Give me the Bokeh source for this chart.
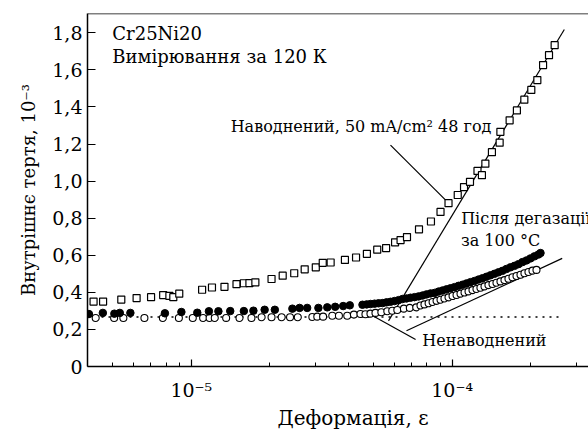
from bokeh.plotting import figure
from bokeh.models import Range1d, FixedTicker, Span, Label, Title
from bokeh.embed import file_html
from bokeh.resources import INLINE

# ---- data (strain, internal friction x1e-3) ----
hyd_x = [4.22e-6, 4.59e-6, 5.39e-6, 6.17e-6, 7.01e-6, 7.80e-6, 8.24e-6, 8.53e-6, 8.99e-6,
         1.10e-5, 1.20e-5, 1.34e-5, 1.49e-5, 1.59e-5, 1.67e-5, 1.76e-5, 2.03e-5, 2.24e-5,
         2.48e-5, 2.72e-5, 3.00e-5, 3.19e-5, 3.42e-5, 3.88e-5, 4.28e-5, 4.71e-5, 5.16e-5,
         5.58e-5, 6.04e-5, 6.34e-5, 6.71e-5, 7.46e-5, 8.29e-5, 9.02e-5, 9.68e-5, 1.05e-4,
         1.11e-4, 1.17e-4, 1.25e-4, 1.30e-4, 1.34e-4, 1.42e-4, 1.52e-4, 1.53e-4, 1.66e-4,
         1.77e-4, 1.89e-4, 2.01e-4, 2.12e-4, 2.23e-4, 2.35e-4, 2.47e-4]
hyd_y = [0.350, 0.350, 0.361, 0.369, 0.374, 0.385, 0.381, 0.374, 0.393,
         0.414, 0.426, 0.430, 0.444, 0.449, 0.450, 0.454, 0.472, 0.490,
         0.503, 0.524, 0.535, 0.559, 0.561, 0.575, 0.588, 0.608, 0.630,
         0.639, 0.670, 0.682, 0.698, 0.740, 0.782, 0.834, 0.881, 0.925,
         0.968, 0.996, 1.055, 1.032, 1.094, 1.156, 1.207, 1.266, 1.328,
         1.381, 1.439, 1.492, 1.545, 1.626, 1.679, 1.733]

degas_x = [4.05e-6, 4.58e-6, 5.07e-6, 5.32e-6, 5.84e-6, 7.92e-6, 9.16e-6, 1.054e-5, 1.168e-5,
           1.27e-5, 1.41e-5, 1.59e-5, 1.73e-5, 1.91e-5, 2.09e-5, 2.44e-5, 2.60e-5, 2.78e-5,
           3.07e-5, 3.32e-5, 3.56e-5, 3.82e-5, 4.05e-5,
           4.53e-5, 4.70e-5, 4.86e-5, 5.04e-5, 5.22e-5, 5.41e-5, 5.60e-5, 5.80e-5, 6.01e-5,
           6.23e-5, 6.45e-5, 6.68e-5, 6.92e-5, 7.17e-5, 7.43e-5, 7.70e-5, 7.97e-5, 8.26e-5,
           8.56e-5, 8.86e-5, 9.18e-5, 9.51e-5, 9.85e-5, 1.020e-4, 1.057e-4, 1.095e-4, 1.134e-4,
           1.175e-4, 1.217e-4, 1.261e-4, 1.306e-4, 1.353e-4, 1.402e-4, 1.452e-4, 1.504e-4,
           1.558e-4, 1.614e-4, 1.673e-4, 1.733e-4, 1.795e-4, 1.859e-4, 1.926e-4, 1.995e-4,
           2.067e-4, 2.141e-4, 2.18e-4]
degas_y = [0.283, 0.289, 0.285, 0.289, 0.289, 0.287, 0.294, 0.290, 0.298,
           0.298, 0.299, 0.299, 0.301, 0.306, 0.306, 0.312, 0.316, 0.316,
           0.316, 0.319, 0.322, 0.326, 0.330,
           0.333, 0.335, 0.337, 0.339, 0.341, 0.342, 0.346, 0.349, 0.353,
           0.358, 0.364, 0.367, 0.371, 0.374, 0.378, 0.383, 0.389, 0.394,
           0.397, 0.404, 0.410, 0.416, 0.422, 0.428, 0.435, 0.441, 0.448,
           0.455, 0.461, 0.469, 0.476, 0.484, 0.492, 0.500, 0.508,
           0.516, 0.526, 0.535, 0.543, 0.552, 0.563, 0.572, 0.583,
           0.594, 0.604, 0.612]

unhyd_x = [4.30e-6, 5.06e-6, 5.49e-6, 6.61e-6, 7.78e-6, 8.96e-6, 1.013e-5, 1.11e-5, 1.175e-5,
           1.23e-5, 1.36e-5, 1.53e-5, 1.70e-5, 1.86e-5, 2.03e-5, 2.22e-5, 2.39e-5, 2.56e-5,
           2.91e-5, 3.04e-5, 3.20e-5, 3.47e-5, 3.68e-5, 3.96e-5, 4.20e-5, 4.45e-5, 4.65e-5,
           4.86e-5, 5.08e-5, 5.35e-5, 5.64e-5, 5.89e-5, 6.16e-5, 6.53e-5, 6.88e-5, 7.28e-5,
           7.56e-5, 7.83e-5, 8.12e-5, 8.41e-5, 8.71e-5, 9.02e-5, 9.34e-5, 9.68e-5, 1.003e-4,
           1.039e-4, 1.076e-4, 1.115e-4, 1.155e-4, 1.196e-4, 1.239e-4, 1.283e-4, 1.330e-4,
           1.377e-4, 1.427e-4, 1.478e-4, 1.531e-4, 1.586e-4, 1.643e-4, 1.702e-4, 1.764e-4,
           1.827e-4, 1.892e-4, 1.960e-4, 2.031e-4, 2.104e-4]
unhyd_y = [0.262, 0.262, 0.262, 0.262, 0.262, 0.262, 0.262, 0.262, 0.262,
           0.262, 0.262, 0.262, 0.262, 0.266, 0.266, 0.266, 0.266, 0.266,
           0.267, 0.269, 0.269, 0.274, 0.274, 0.274, 0.280, 0.283, 0.282,
           0.285, 0.289, 0.293, 0.298, 0.301, 0.305, 0.312, 0.316, 0.319,
           0.329, 0.335, 0.341, 0.348, 0.354, 0.360, 0.367, 0.373, 0.380,
           0.386, 0.393, 0.399, 0.405, 0.412, 0.418, 0.425, 0.432,
           0.439, 0.445, 0.452, 0.459, 0.466, 0.473, 0.481, 0.488,
           0.495, 0.503, 0.510, 0.517, 0.521]

# fitted straight lines and baseline
fit_hyd_x = [5.70e-5, 2.69e-4]
fit_hyd_y = [0.246, 1.818]
fit_deg_x = [6.68e-5, 2.64e-4]
fit_deg_y = [0.193, 0.583]
base_x = [4.0e-6, 2.60e-4]
base_y = [0.267, 0.267]
# leader lines
lead_hyd_x = [5.80e-5, 9.48e-5]
lead_hyd_y = [1.194, 0.895]
lead_unh_x = [4.86e-5, 7.24e-5]
lead_unh_y = [0.280, 0.146]

y_ticks = [0, 0.2, 0.4, 0.6, 0.8, 1.0, 1.2, 1.4, 1.6, 1.8]
y_tick_labels = ["0", "0,2", "0,4", "0,6", "0,8", "1,0", "1,2", "1,4", "1,6", "1,8"]
x_ticks = [1e-5, 1e-4]
x_tick_labels = ["10\u207b\u2075", "10\u207b\u2074"]
x_minor = [5e-6, 6e-6, 7e-6, 8e-6, 9e-6, 2e-5, 3e-5, 4e-5, 5e-5, 6e-5, 7e-5, 8e-5, 9e-5, 2e-4, 3e-4]

FONT = "DejaVu Serif"

p = figure(width=588, height=429, x_axis_type="log",
           x_range=Range1d(4.0e-6, 3.33e-4), y_range=Range1d(0, 1.904),
           output_backend="svg", toolbar_location=None,
           min_border_left=87, min_border_right=0, min_border_top=13, min_border_bottom=0)
p.outline_line_color = None
p.grid.visible = False
p.background_fill_color = "white"
p.border_fill_color = "white"

# top border
p.add_layout(Span(location=1.904, dimension="width", line_color="black", line_width=1.5))

# axes styling
for ax in (p.xaxis[0], p.yaxis[0]):
    ax.axis_line_width = 1.5
    ax.axis_line_color = "black"
    ax.major_tick_line_color = "black"
    ax.major_tick_line_width = 1.2
    ax.minor_tick_line_width = 1.0
    ax.major_tick_in = 7
    ax.major_tick_out = 0
    ax.minor_tick_in = 4
    ax.minor_tick_out = 0
    ax.major_label_text_font = FONT
    ax.major_label_text_font_size = "19px"
    ax.major_label_text_color = "black"
    ax.axis_label_text_font = FONT
    ax.axis_label_text_font_size = "18px"
    ax.axis_label_text_font_style = "normal"
    ax.axis_label_text_color = "black"

p.yaxis.ticker = FixedTicker(ticks=y_ticks)
p.yaxis.major_label_overrides = dict(zip(y_ticks, y_tick_labels))
p.yaxis.major_tick_in = 8
p.yaxis.minor_tick_line_color = None
p.yaxis.major_label_standoff = 5
p.yaxis.axis_label = "Внутрішнє тертя, 10\u207b\u00b3"
p.yaxis.axis_label_standoff = 10

p.xaxis.ticker = FixedTicker(ticks=x_ticks, minor_ticks=x_minor)
p.xaxis.major_label_overrides = dict(zip(x_ticks, x_tick_labels))
p.xaxis.major_label_standoff = 12

# x-axis title below the tick labels, offset to where the reference has it
p.add_layout(Title(text="Деформація, ε", align="left", offset=190, standoff=0,
                   text_font=FONT, text_font_size="20px", text_font_style="normal",
                   text_color="black"), "below")

# baseline and fits
p.line(base_x, base_y, line_color="black", line_width=1.6, line_dash="2 5")
p.line(fit_hyd_x, fit_hyd_y, line_color="black", line_width=1.2)
p.line(fit_deg_x, fit_deg_y, line_color="black", line_width=1.2)
p.line(lead_hyd_x, lead_hyd_y, line_color="black", line_width=1.2)
p.line(lead_unh_x, lead_unh_y, line_color="black", line_width=1.2)

# data
p.scatter(unhyd_x, unhyd_y, marker="circle", size=7, fill_color="white",
          line_color="black", line_width=1.1)
p.scatter(degas_x, degas_y, marker="circle", size=7.5, fill_color="black",
          line_color="black", line_width=1)
p.scatter(hyd_x, hyd_y, marker="square", size=7, fill_color="white",
          line_color="black", line_width=1.2)

def lab(x, y, t, size, align="left"):
    p.add_layout(Label(x=x, y=y, text=t, text_font=FONT, text_font_size=size,
                       text_color="black", text_baseline="alphabetic", text_align=align))

lab(4.98e-6, 1.796, "Cr25Ni20", "18px")
lab(4.98e-6, 1.672, "Вимірювання за 120 К", "18px")
lab(1.415e-5, 1.297, "Наводнений, 50 mA/cm\u00b2 48 год", "16px")
lab(1.082e-4, 0.798, "Після дегазації", "16px")
lab(1.08e-4, 0.682, "за 100 °С", "16px")
lab(7.68e-5, 0.139, "Ненаводнений", "16px")

open("out.html", "w").write(file_html(p, INLINE))
